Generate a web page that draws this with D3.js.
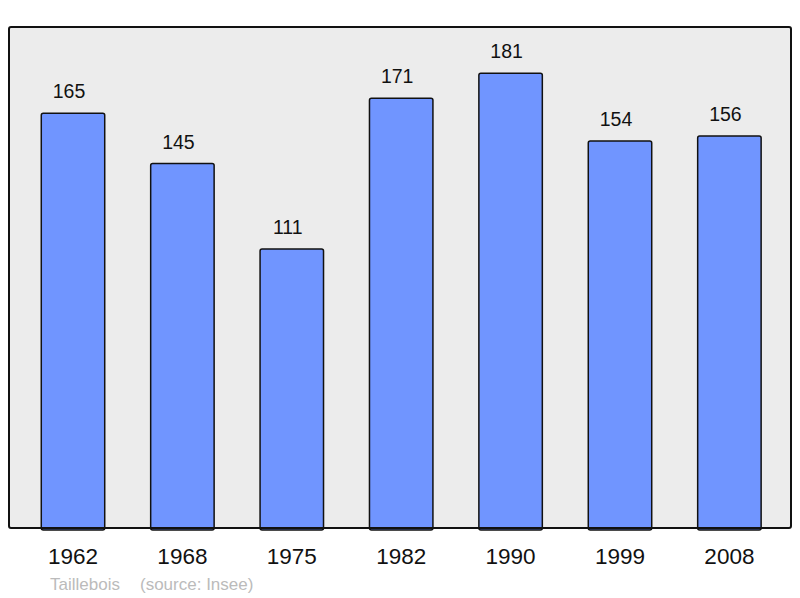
<!DOCTYPE html>
<html>
<head>
<meta charset="utf-8">
<script src="https://cdn.jsdelivr.net/npm/d3@7"></script>
<style>
  body { margin: 0; background: #fff; }
  text { font-family: "Liberation Sans", Arial, sans-serif; }
</style>
</head>
<body>
<div class="chart"></div>
<script>
// population data
var years = ["1962", "1968", "1975", "1982", "1990", "1999", "2008"];
var population = [165, 145, 111, 171, 181, 154, 156];
var townName = "Taillebois";
var sourceLabel = "(source: Insee)";

var svgWidth = 800;
var svgHeight = 598;

var svg = d3.select(".chart")
    .append("svg")
    .attr("width", svgWidth)
    .attr("height", svgHeight);

var frame = { left: 9, top: 27, right: 791, bottom: 528 };

var xScale = d3.scaleBand()
    .domain(years)
    .range([18.3, 784.1])
    .paddingInner(0.42)
    .paddingOuter(0.21);

var yScale = d3.scaleLinear()
    .domain([0, 200])
    .range([frame.bottom, frame.bottom - 2.513 * 200]);

// background frame
svg.append("rect")
    .attr("x", frame.left)
    .attr("y", frame.top)
    .attr("width", frame.right - frame.left)
    .attr("height", frame.bottom - frame.top)
    .attr("rx", 2)
    .attr("fill", "#ececec")
    .attr("stroke", "none");

var data = years.map((y, i) => ({ year: y, value: population[i] }));

svg.selectAll(".bar")
    .data(data)
    .enter()
    .append("rect")
    .attr("class", "bar")
    .attr("x", d => xScale(d.year))
    .attr("y", d => yScale(d.value))
    .attr("width", xScale.bandwidth())
    .attr("height", d => yScale(0) - yScale(d.value) + 2)
    .attr("rx", 2)
    .attr("fill", "#7095ff")
    .attr("stroke", "#111")
    .attr("stroke-width", 1.5);

// frame border drawn on top
svg.append("rect")
    .attr("x", frame.left)
    .attr("y", frame.top)
    .attr("width", frame.right - frame.left)
    .attr("height", frame.bottom - frame.top)
    .attr("rx", 2)
    .attr("fill", "none")
    .attr("stroke", "#111")
    .attr("stroke-width", 2);

// value labels
svg.selectAll(".val")
    .data(data)
    .enter()
    .append("text")
    .attr("class", "val")
    .attr("x", d => xScale(d.year) + xScale.bandwidth() / 2 - 4)
    .attr("y", d => yScale(d.value) - 15)
    .attr("text-anchor", "middle")
    .attr("font-size", 19.5)
    .attr("fill", "#111")
    .text(d => d.value);

// year axis labels
var xAxis = d3.axisBottom(xScale).tickSize(0).tickPadding(0);
var axisG = svg.append("g")
    .attr("transform", `translate(0, ${frame.bottom})`)
    .call(xAxis);
axisG.select(".domain").remove();
axisG.selectAll("text")
    .attr("dy", 0)
    .attr("y", 36)
    .attr("font-size", 22.5)
    .attr("font-family", "Liberation Sans, Arial, sans-serif")
    .attr("fill", "#111");

// footer
svg.append("text")
    .attr("x", 50)
    .attr("y", 590)
    .attr("font-size", 17)
    .attr("fill", "#bbb")
    .text(townName);

svg.append("text")
    .attr("x", 140)
    .attr("y", 590)
    .attr("font-size", 17)
    .attr("fill", "#bbb")
    .text(sourceLabel);
</script>
</body>
</html>
